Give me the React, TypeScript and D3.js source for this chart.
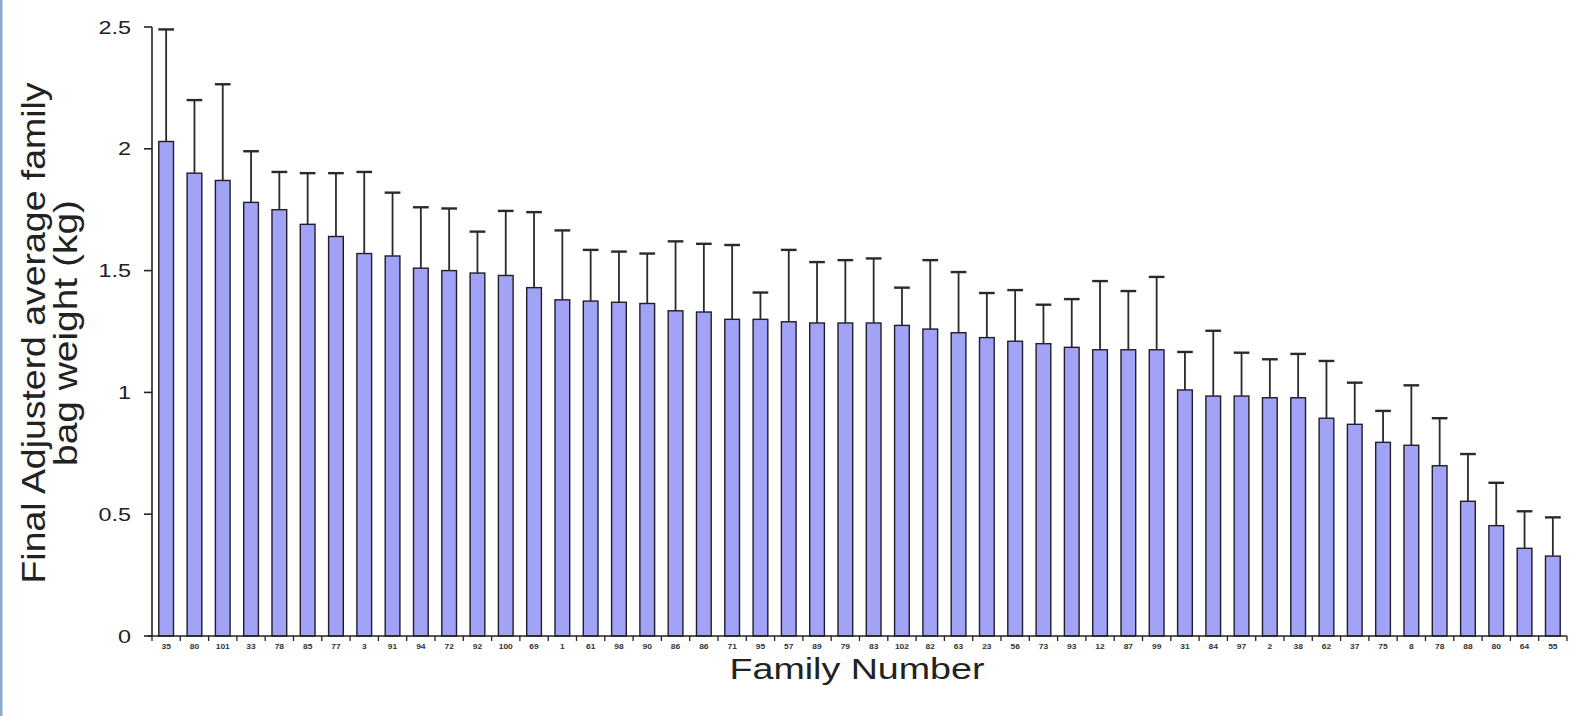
import React from "react";
import * as d3 from "d3";

const families = ["35","80","101","33","78","85","77","3","91","94","72","92","100","69","1","61","98","90","86","86","71","95","57","89","79","83","102","82","63","23","56","73","93","12","87","99","31","84","97","2","38","62","37","75","8","78","88","80","64","55"];

const meanWeight = [2.03,1.90,1.87,1.78,1.75,1.69,1.64,1.57,1.56,1.51,1.50,1.49,1.48,1.43,1.38,1.375,1.37,1.365,1.335,1.33,1.30,1.30,1.29,1.285,1.285,1.285,1.275,1.26,1.245,1.225,1.21,1.20,1.185,1.175,1.175,1.175,1.01,0.985,0.985,0.978,0.978,0.894,0.869,0.795,0.783,0.699,0.553,0.453,0.36,0.328];

const errorUp = [0.46,0.30,0.395,0.21,0.155,0.21,0.26,0.335,0.26,0.25,0.255,0.17,0.265,0.31,0.285,0.21,0.208,0.205,0.285,0.28,0.305,0.11,0.295,0.25,0.258,0.265,0.155,0.283,0.249,0.183,0.21,0.16,0.198,0.282,0.241,0.299,0.156,0.268,0.178,0.158,0.18,0.235,0.171,0.129,0.246,0.195,0.194,0.176,0.152,0.159];

const yTicks = [0, 0.5, 1, 1.5, 2, 2.5];

const W = 1570, H = 716;
const X0 = 152, X1 = 1567, Y0 = 636, Y1 = 27;
const SX = 1.3;

export default function App() {
  const idx = families.map((_, i) => i);
  const x = d3.scaleBand<number>().domain(idx).range([X0, X1]).paddingInner(0.48).paddingOuter(0.24);
  const y = d3.scaleLinear().domain([0, 2.5]).range([Y0, Y1]);
  const step = x.step();
  const bw = x.bandwidth();
  const font = "'Liberation Sans', Arial, sans-serif";

  return (
    <div style={{ position: "fixed", left: 0, top: 0 }}>
      <svg width={W} height={H} style={{ display: "block", background: "#fff" }}>
        <rect x={0} y={0} width={W} height={H} fill="#fff" />
        <rect x={0} y={0} width={2.5} height={H} fill="#8aa8d0" />

        {/* bars */}
        {idx.map((i) => (
          <rect key={"b" + i} x={x(i)!} y={y(meanWeight[i])} width={bw} height={Y0 - y(meanWeight[i])}
            fill="#a2a2f6" stroke="#1e1e2a" strokeWidth={1.4} />
        ))}

        {/* error bars */}
        {idx.map((i) => {
          const cx = x(i)! + bw / 2;
          const top = y(meanWeight[i] + errorUp[i]);
          return (
            <g key={"e" + i} stroke="#2a2a2a" strokeWidth={1.8}>
              <line x1={cx} x2={cx} y1={y(meanWeight[i])} y2={top} />
              <line x1={cx - bw / 2 - 0.5} x2={cx + bw / 2 + 0.5} y1={top} y2={top} strokeWidth={2.4} />
            </g>
          );
        })}

        {/* y axis */}
        <line x1={X0} x2={X0} y1={Y1} y2={Y0} stroke="#222" strokeWidth={1.6} />
        {yTicks.map((t) => (
          <g key={"yt" + t}>
            <line x1={X0 - 8} x2={X0} y1={y(t)} y2={y(t)} stroke="#222" strokeWidth={1.6} />
            <text transform={`translate(${131},${y(t) + 6.5}) scale(${SX},1)`} textAnchor="end"
              fontFamily={font} fontSize={18} fill="#222">{String(t)}</text>
          </g>
        ))}

        {/* x axis */}
        <line x1={X0 - 4} x2={X1} y1={Y0} y2={Y0} stroke="#222" strokeWidth={1.6} />
        {d3.range(families.length + 1).map((k) => (
          <line key={"xt" + k} x1={X0 + k * step} x2={X0 + k * step} y1={Y0} y2={Y0 + 5} stroke="#222" strokeWidth={1.3} />
        ))}
        {idx.map((i) => (
          <text key={"xl" + i} transform={`translate(${x(i)! + bw / 2},${Y0 + 13}) scale(${SX},1)`}
            textAnchor="middle" fontFamily={font} fontSize={6.5} fontWeight="bold" fill="#333">{families[i]}</text>
        ))}

        {/* axis titles */}
        <text x={857} y={679} textAnchor="middle" fontFamily={font} fontSize={30} fill="#222"
          textLength={255} lengthAdjust="spacingAndGlyphs">Family Number</text>
        <text transform={`translate(45,333) rotate(-90)`} textAnchor="middle" fontFamily={font} fontSize={33} fill="#222"
          textLength={501} lengthAdjust="spacingAndGlyphs">Final Adjusterd average family</text>
        <text transform={`translate(77,333) rotate(-90)`} textAnchor="middle" fontFamily={font} fontSize={33} fill="#222"
          textLength={266} lengthAdjust="spacingAndGlyphs">bag weight (kg)</text>
      </svg>
    </div>
  );
}
